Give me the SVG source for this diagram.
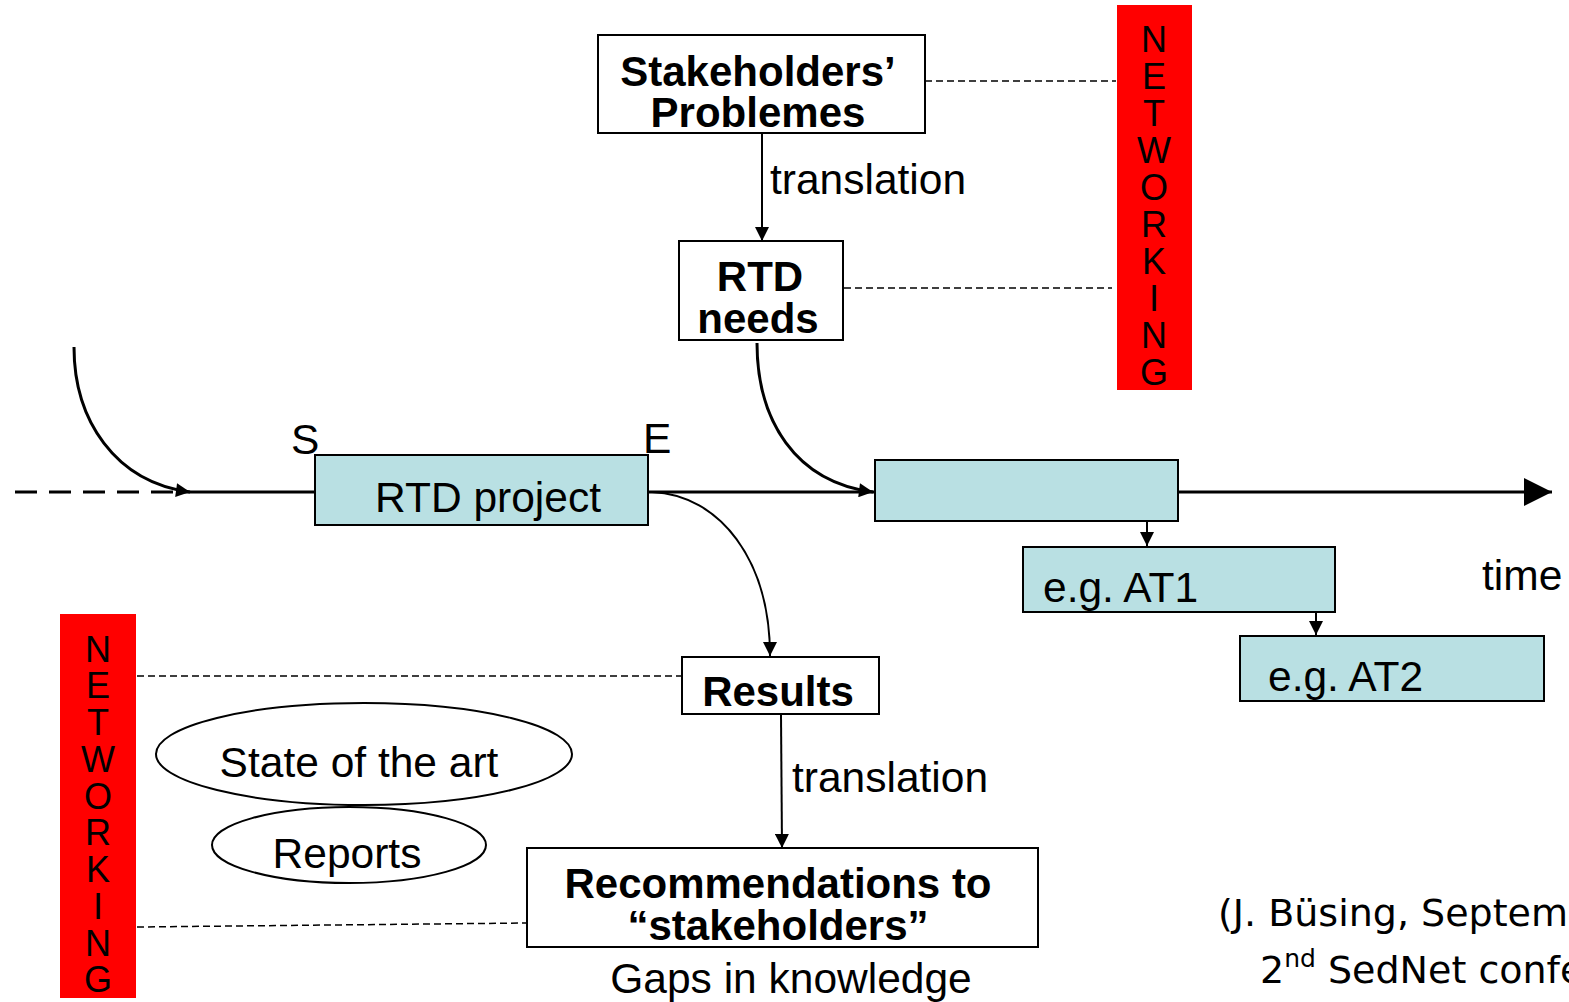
<svg xmlns="http://www.w3.org/2000/svg" width="1569" height="1002" viewBox="0 0 1569 1002">
<defs>
<style>
text{font-family:"Liberation Sans",Arial,sans-serif;fill:#000}
.b{font-weight:bold;font-size:42px;text-anchor:middle}
.r{font-size:42.5px}
.net{font-size:36px;text-anchor:middle}
.box{fill:#fff;stroke:#000;stroke-width:2}
.teal{fill:#b9e0e3;stroke:#000;stroke-width:2}
.red{fill:#ff0000}
.ln{fill:none;stroke:#000;stroke-width:2}
.thick{fill:none;stroke:#000;stroke-width:3}
.dash{fill:none;stroke:#000;stroke-width:1.5;stroke-dasharray:7,4}
.foot{font-family:"DejaVu Sans","Liberation Sans",sans-serif;font-size:38px}
</style>
<marker id="ahm" viewBox="0 0 10 10" refX="10" refY="5" markerWidth="16" markerHeight="14" markerUnits="userSpaceOnUse" orient="auto"><path d="M0,0L10,5L0,10z"/></marker>
<marker id="ahl" viewBox="0 0 10 10" refX="10" refY="5" markerWidth="36" markerHeight="28" markerUnits="userSpaceOnUse" orient="auto"><path d="M0,0L10,5L0,10z"/></marker>
</defs>
<g id="connectors">
<line class="dash" x1="925" y1="81" x2="1116" y2="81"/>
<line class="dash" x1="844" y1="288" x2="1112" y2="288"/>
<line class="dash" x1="137" y1="676" x2="682" y2="676"/>
<path class="dash" d="M137,927 L527,923"/>
<line class="ln" x1="762" y1="134" x2="762" y2="241" marker-end="url(#ahm)"/>
<line class="ln" x1="781" y1="715" x2="782" y2="848" marker-end="url(#ahm)"/>
<path class="thick" d="M15,492 L180,492" stroke-dasharray="22,12"/>
<path class="thick" d="M74,347 C74,420 115,482 190,492" marker-end="url(#ahm)"/>
<line class="thick" x1="180" y1="492" x2="315" y2="492"/>
<line class="thick" x1="648" y1="492" x2="875" y2="492"/>
<path class="thick" d="M757,343 C757,420 795,482 873,492" marker-end="url(#ahm)"/>
<path class="ln" d="M652,492 C720,495 770,560 770,656" marker-end="url(#ahm)"/>
<line class="thick" x1="1178" y1="492" x2="1552" y2="492" marker-end="url(#ahl)"/>
<line class="ln" x1="1147" y1="521" x2="1147" y2="546" marker-end="url(#ahm)"/>
<line class="ln" x1="1316" y1="612" x2="1316" y2="635" marker-end="url(#ahm)"/>
</g>
<g id="stakeholders">
<rect class="box" x="598" y="35" width="327" height="98"/>
<text class="b" x="758" y="86">Stakeholders’</text>
<text class="b" x="758" y="127">Problemes</text>
</g>
<text class="r" x="770" y="194">translation</text>
<g id="rtd-needs">
<rect class="box" x="679" y="241" width="164" height="99"/>
<text class="b" x="760" y="291">RTD</text>
<text class="b" x="758" y="333">needs</text>
</g>
<g id="networking-top">
<rect class="red" x="1117" y="5" width="75" height="385"/>
<text class="net"><tspan x="1154" y="52">N</tspan><tspan x="1154" y="89">E</tspan><tspan x="1154" y="126">T</tspan><tspan x="1154" y="163">W</tspan><tspan x="1154" y="200">O</tspan><tspan x="1154" y="237">R</tspan><tspan x="1154" y="274">K</tspan><tspan x="1154" y="311">I</tspan><tspan x="1154" y="348">N</tspan><tspan x="1154" y="385">G</tspan></text>
</g>
<g id="rtd-project">
<rect class="teal" x="315" y="455" width="333" height="70"/>
<text class="r" x="488" y="512" text-anchor="middle">RTD project</text>
<text class="r" x="291" y="454">S</text>
<text class="r" x="643" y="453">E</text>
</g>
<g id="next-project">
<rect class="teal" x="875" y="460" width="303" height="61"/>
</g>
<text class="r" x="1482" y="590">time</text>
<g id="at1">
<rect class="teal" x="1023" y="547" width="312" height="65"/>
<text class="r" x="1043" y="602">e.g. AT1</text>
</g>
<g id="at2">
<rect class="teal" x="1240" y="636" width="304" height="65"/>
<text class="r" x="1268" y="691">e.g. AT2</text>
</g>
<g id="networking-bottom">
<rect class="red" x="60" y="614" width="76" height="384"/>
<text class="net"><tspan x="98" y="662">N</tspan><tspan x="98" y="698">E</tspan><tspan x="98" y="735">T</tspan><tspan x="98" y="772">W</tspan><tspan x="98" y="809">O</tspan><tspan x="98" y="845">R</tspan><tspan x="98" y="882">K</tspan><tspan x="98" y="919">I</tspan><tspan x="98" y="956">N</tspan><tspan x="98" y="992">G</tspan></text>
</g>
<g id="results">
<rect class="box" x="682" y="657" width="197" height="57"/>
<text class="b" x="778" y="706">Results</text>
</g>
<text class="r" x="792" y="792">translation</text>
<g id="recommendations">
<rect class="box" x="527" y="848" width="511" height="99"/>
<text class="b" x="778" y="898">Recommendations to</text>
<text class="b" x="778" y="940">“stakeholders”</text>
</g>
<text class="r" x="791" y="993" text-anchor="middle">Gaps in knowledge</text>
<g id="state-of-art">
<ellipse class="ln" cx="364" cy="754" rx="208" ry="51"/>
<text class="r" x="359" y="777" text-anchor="middle">State of the art</text>
</g>
<g id="reports">
<ellipse class="ln" cx="349" cy="845" rx="137" ry="38"/>
<text class="r" x="347" y="868" text-anchor="middle">Reports</text>
</g>
<text class="foot" x="1218" y="926">(J. Büsing, Septem</text>
<text class="foot" x="1260" y="983">2<tspan font-size="25" dy="-16">nd</tspan><tspan dy="16"> SedNet confe</tspan></text>
</svg>
